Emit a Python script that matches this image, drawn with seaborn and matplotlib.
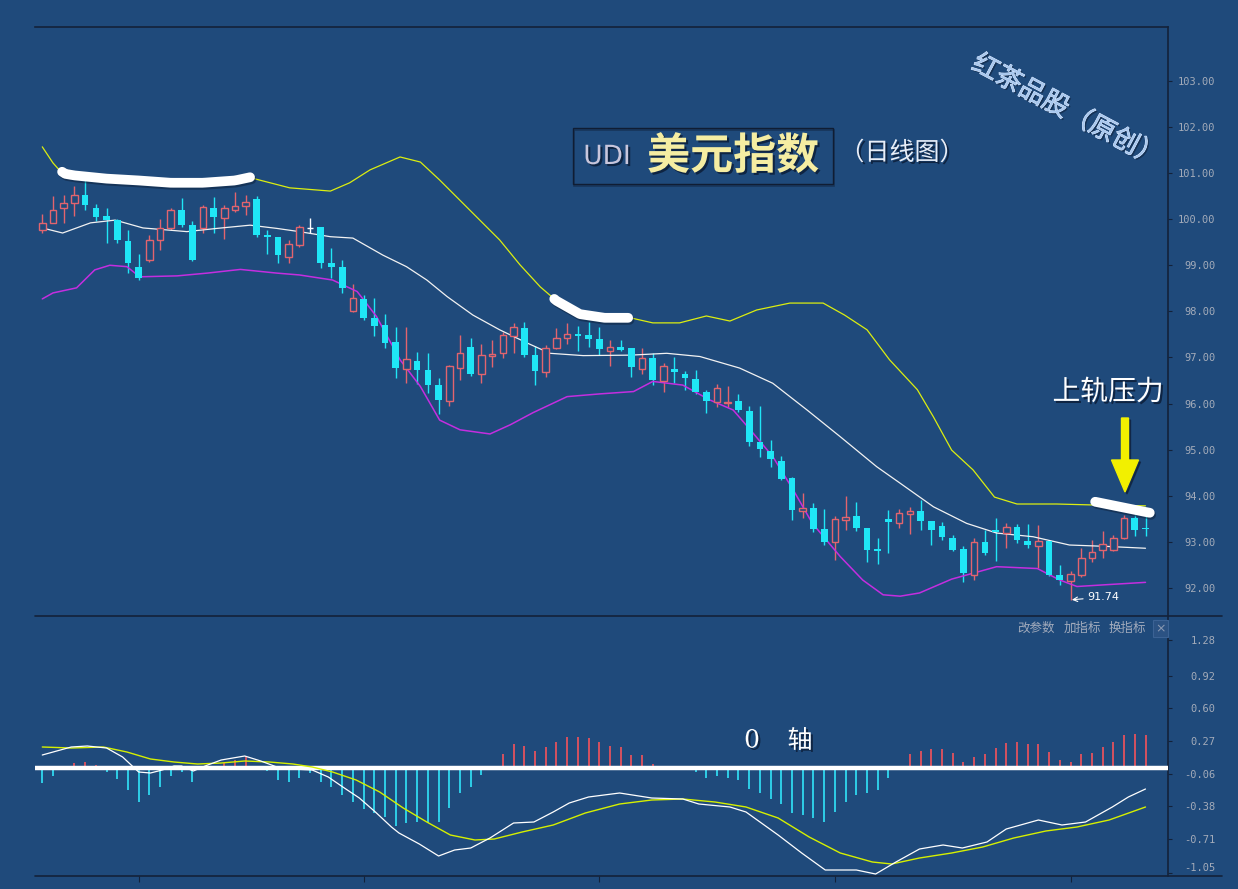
import numpy as np
import pandas as pd
import matplotlib
matplotlib.use("Agg")
import matplotlib.pyplot as plt
import matplotlib.patheffects as pe
from matplotlib.patches import Rectangle, FancyArrow
from matplotlib.lines import Line2D
from matplotlib.transforms import IdentityTransform
import seaborn as sns

# ---- daily candles (104 sessions) ----
opens = [99.77, 99.92, 100.24, 100.36, 100.53, 100.24, 100.07, 99.98, 99.53, 98.96,
         99.12, 99.55, 99.80, 100.20, 99.87, 99.80, 100.24, 100.02, 100.21, 100.29,
         100.43, 99.64, 99.61, 99.17, 99.44, 99.80, 99.82, 99.04, 98.96, 98.01,
         98.27, 97.85, 97.70, 97.34, 96.75, 96.92, 96.73, 96.40, 96.06, 96.78,
         97.22, 96.64, 97.04, 97.09, 97.47, 97.63, 97.05, 96.69, 97.20, 97.42,
         97.49, 97.49, 97.40, 97.15, 97.23, 97.20, 96.75, 96.98, 96.49, 96.75,
         96.64, 96.53, 96.24, 96.04, 96.01, 96.06, 95.84, 95.16, 94.97, 94.76,
         94.39, 93.66, 93.73, 93.28, 92.99, 93.48, 93.55, 93.31, 92.84, 93.49,
         93.40, 93.60, 93.67, 93.45, 93.35, 93.09, 92.85, 92.28, 92.99, 93.26,
         93.19, 93.33, 93.02, 92.90, 93.02, 92.28, 92.14, 92.27, 92.64, 92.82,
         92.82, 93.08, 93.51, 93.29]
highs = [100.11, 100.50, 100.53, 100.71, 100.89, 100.34, 100.24, 100.00, 99.77, 99.25,
         99.66, 100.00, 100.24, 100.45, 99.95, 100.31, 100.49, 100.31, 100.60, 100.53,
         100.50, 99.77, 99.62, 99.55, 99.87, 100.02, 99.82, 99.37, 99.12, 98.59,
         98.36, 98.30, 97.94, 97.67, 97.65, 97.11, 97.09, 96.55, 96.84, 97.49,
         97.42, 97.29, 97.38, 97.56, 97.74, 97.78, 97.25, 97.27, 97.63, 97.74,
         97.68, 97.78, 97.67, 97.38, 97.38, 97.20, 97.20, 97.09, 96.87, 97.02,
         96.71, 96.73, 96.30, 96.43, 96.38, 96.21, 95.95, 95.95, 95.21, 94.86,
         94.41, 94.05, 93.84, 93.71, 93.55, 94.00, 93.86, 93.31, 93.09, 93.69,
         93.71, 93.76, 93.91, 93.45, 93.44, 93.15, 92.90, 93.08, 93.26, 93.51,
         93.40, 93.38, 93.38, 93.37, 93.04, 92.50, 92.37, 92.86, 93.04, 93.24,
         93.15, 93.58, 93.58, 93.58]
lows = [99.69, 99.91, 99.92, 100.07, 100.20, 99.95, 99.48, 99.49, 98.83, 98.68,
        99.08, 99.33, 99.77, 99.84, 99.10, 99.69, 99.69, 99.56, 100.16, 100.09,
        99.61, 99.25, 99.04, 99.06, 99.40, 99.69, 98.94, 98.72, 98.39, 97.98,
        97.81, 97.47, 97.20, 96.56, 96.44, 96.42, 96.22, 95.77, 95.95, 96.51,
        96.60, 96.44, 96.80, 96.98, 97.09, 97.02, 96.40, 96.58, 97.18, 97.29,
        97.13, 97.23, 97.05, 96.82, 97.13, 96.58, 96.64, 96.40, 96.26, 96.45,
        96.30, 96.21, 95.79, 95.92, 95.92, 95.82, 95.07, 94.85, 94.62, 94.34,
        93.48, 93.51, 93.22, 92.93, 92.61, 93.26, 93.24, 92.57, 92.51, 92.75,
        93.31, 93.16, 93.26, 92.93, 93.04, 92.79, 92.12, 92.17, 92.72, 92.58,
        92.86, 92.97, 92.86, 92.44, 92.25, 92.07, 91.74, 92.24, 92.57, 92.64,
        92.79, 93.06, 93.13, 93.13]
closes = [99.91, 100.21, 100.36, 100.53, 100.31, 100.05, 99.98, 99.55, 99.06, 98.72,
          99.55, 99.80, 100.20, 99.87, 99.12, 100.27, 100.04, 100.24, 100.29, 100.37,
          99.66, 99.62, 99.22, 99.46, 99.82, 99.80, 99.06, 98.97, 98.51, 98.30,
          97.85, 97.69, 97.31, 96.78, 96.96, 96.73, 96.40, 96.08, 96.82, 97.09,
          96.64, 97.05, 97.08, 97.49, 97.67, 97.05, 96.71, 97.21, 97.42, 97.50,
          97.47, 97.40, 97.18, 97.23, 97.16, 96.80, 96.98, 96.51, 96.82, 96.69,
          96.56, 96.25, 96.06, 96.33, 96.04, 95.85, 95.17, 95.01, 94.80, 94.37,
          93.68, 93.73, 93.28, 93.00, 93.50, 93.54, 93.30, 92.82, 92.81, 93.44,
          93.62, 93.67, 93.45, 93.26, 93.10, 92.82, 92.32, 92.99, 92.75, 93.22,
          93.33, 93.04, 92.93, 93.02, 92.28, 92.17, 92.30, 92.64, 92.77, 92.95,
          93.09, 93.51, 93.26, 93.27]

# ---- bollinger bands, read at points along the session axis ----
upper_idx = [0, 1, 2, 3, 6, 9, 12, 15, 18, 19.6, 23.1, 26.9, 28.7, 30.6, 33.4, 35.3, 37.1,
             39.9, 42.7, 44.6, 46.5, 48, 50.2, 52.5, 54.9, 57, 59.5, 62, 64.2, 66.7, 69.8,
             72.9, 74.9, 77, 79.1, 81.7, 83.2, 84.9, 86.9, 88.9, 91, 94.7, 98, 103]
upper = [101.57, 101.22, 100.96, 100.92, 100.85, 100.81, 100.76, 100.76, 100.81, 100.89,
         100.68, 100.61, 100.79, 101.07, 101.35, 101.24, 100.85, 100.20, 99.55, 99.01,
         98.53, 98.23, 97.94, 97.86, 97.86, 97.75, 97.75, 97.90, 97.79, 98.03, 98.18,
         98.18, 97.92, 97.60, 96.95, 96.30, 95.71, 94.99, 94.56, 93.97, 93.82, 93.82,
         93.80, 93.78]
middle_idx = [0, 1.9, 4.5, 6.8, 9.4, 13.5, 16.3, 19.4, 21.9, 24, 26.9, 29, 31.8, 34, 35.9,
              37.8, 40.2, 42.7, 45.3, 47.4, 50.5, 54.9, 58.3, 61.4, 65.1, 68.2, 71.4, 74.5,
              77.9, 80.1, 83.2, 86.3, 89.1, 92.5, 95.9, 99.4, 103]
middle = [99.81, 99.70, 99.92, 99.98, 99.81, 99.73, 99.80, 99.87, 99.80, 99.73, 99.62,
          99.59, 99.22, 98.97, 98.68, 98.32, 97.92, 97.60, 97.31, 97.09, 97.04, 97.05,
          97.09, 97.02, 96.77, 96.44, 95.86, 95.28, 94.63, 94.27, 93.76, 93.40, 93.19,
          93.11, 92.93, 92.90, 92.86]
lower_idx = [0, 1, 3.2, 4.9, 6.3, 7.9, 9.1, 12.6, 15.4, 18.5, 21.9, 24, 27.1, 29.4, 31.2,
             33.4, 35.3, 37.1, 39, 41.8, 43.7, 45.8, 49, 52.1, 55.2, 57, 59.8, 62.3, 64.5,
             66.1, 68.2, 70.1, 71.9, 74.5, 76.6, 78.5, 80.1, 81.9, 84.9, 89.1, 92.9, 95,
             96.6, 99.4, 103]
lower = [98.27, 98.40, 98.51, 98.90, 99.00, 98.97, 98.75, 98.77, 98.83, 98.91, 98.83,
         98.79, 98.68, 98.43, 97.89, 96.95, 96.37, 95.64, 95.43, 95.34, 95.54, 95.80,
         96.15, 96.21, 96.26, 96.48, 96.40, 96.08, 95.86, 95.43, 94.85, 94.13, 93.40,
         92.68, 92.17, 91.85, 91.82, 91.89, 92.19, 92.46, 92.42, 92.17, 92.03, 92.07,
         92.12]

# ---- MACD (DIF white, DEA yellow, histogram per session) ----
dif_idx = [0, 2.7, 4.2, 6, 7.5, 9, 10.1, 11.2, 12.3, 13, 14.1, 15.2, 16.7, 18.9, 20.4, 21.9,
           23.4, 25.2, 26.7, 28.2, 29.6, 31.1, 32.6, 33.3, 35.2, 37, 38.5, 40, 41.8, 44,
           45.9, 47.7, 49.2, 51, 53.9, 56.9, 59.8, 61.3, 64.2, 65.7, 68.7, 70.9, 73.1, 76,
           77.8, 79.7, 81.9, 84.1, 85.9, 88.2, 90, 93, 95.2, 97.4, 99.9, 101.4, 103]
dif = [0.13, 0.21, 0.22, 0.20, 0.11, -0.04, -0.05, -0.02, 0.02, 0.02, -0.03, 0.02, 0.08,
       0.12, 0.07, 0.01, -0.01, -0.02, -0.09, -0.20, -0.30, -0.44, -0.59, -0.65, -0.76,
       -0.88, -0.82, -0.80, -0.70, -0.55, -0.54, -0.44, -0.35, -0.29, -0.25, -0.30, -0.31,
       -0.36, -0.39, -0.44, -0.67, -0.85, -1.02, -1.02, -1.06, -0.94, -0.81, -0.77, -0.80,
       -0.74, -0.61, -0.52, -0.57, -0.54, -0.39, -0.29, -0.21]
dea_idx = [0, 2.7, 5.7, 7.9, 10.1, 12.3, 14.5, 16.7, 18.9, 21.2, 23.4, 25.2, 27.1, 29.3,
           31.5, 33.7, 35.9, 38.1, 40.4, 42.2, 44.8, 47.7, 50.7, 53.9, 56.9, 59.8, 62.8,
           65.7, 68.7, 71.6, 74.5, 77.5, 79.3, 81.9, 84.9, 87.8, 90.7, 93.7, 96.6, 99.6, 103]
dea = [0.21, 0.20, 0.21, 0.16, 0.09, 0.06, 0.04, 0.05, 0.07, 0.06, 0.04, 0.01, -0.04,
       -0.12, -0.24, -0.40, -0.54, -0.67, -0.72, -0.71, -0.64, -0.57, -0.45, -0.36, -0.32,
       -0.31, -0.34, -0.39, -0.50, -0.69, -0.85, -0.94, -0.96, -0.90, -0.85, -0.79, -0.70,
       -0.63, -0.59, -0.52, -0.39]
macd_hist = [-0.15, -0.08, 0.02, 0.05, 0.06, 0.03, -0.04, -0.11, -0.22, -0.34,
             -0.27, -0.19, -0.08, -0.04, -0.14, 0.0, 0.02, 0.05, 0.08, 0.12,
             0.02, -0.03, -0.12, -0.14, -0.10, -0.05, -0.14, -0.19, -0.27, -0.34,
             -0.41, -0.45, -0.49, -0.58, -0.55, -0.54, -0.55, -0.54, -0.40, -0.25,
             -0.19, -0.07, 0.01, 0.14, 0.24, 0.22, 0.17, 0.21, 0.26, 0.31,
             0.31, 0.30, 0.26, 0.22, 0.21, 0.13, 0.13, 0.04, 0.02, 0.0,
             -0.01, -0.04, -0.10, -0.08, -0.10, -0.12, -0.21, -0.25, -0.31, -0.36,
             -0.45, -0.47, -0.50, -0.54, -0.44, -0.34, -0.27, -0.25, -0.22, -0.10,
             0.02, 0.14, 0.17, 0.19, 0.19, 0.15, 0.06, 0.11, 0.14, 0.20,
             0.25, 0.26, 0.24, 0.24, 0.16, 0.08, 0.06, 0.14, 0.15, 0.21,
             0.26, 0.33, 0.34, 0.33]

price_ticks = [92, 93, 94, 95, 96, 97, 98, 99, 100, 101, 102, 103]
macd_ticks = [1.28, 0.92, 0.60, 0.27, -0.06, -0.38, -0.71, -1.05]
date_ticks = [9, 30, 52, 74, 96]

BG = "#1f4a7b"
DARK = "#13223a"
LABC = "#a3abb9"
UP = "#e2646e"
DN = "#1fe6f6"

sns.set_theme(style="dark", rc={"axes.facecolor": BG, "figure.facecolor": BG})
plt.rcParams["font.family"] = ["Noto Sans CJK SC", "DejaVu Sans"]

W, H = 1238, 889
fig = plt.figure(figsize=(W / 100, H / 100), dpi=100)
ax = fig.add_axes([35 / W, 1 - 616 / H, (1168 - 35) / W, (616 - 27) / H])
ax2 = fig.add_axes([35 / W, 1 - 876 / H, (1168 - 35) / W, (876 - 616) / H])

# ---- candles ----
idx = np.arange(len(opens))
o, h, l, c = map(np.array, (opens, highs, lows, closes))
up = c > o
dn = c < o
fl = c == o
bw = 0.62
ax.vlines(idx[up], l[up], h[up], color=UP, lw=1, zorder=2)
ax.vlines(idx[dn], l[dn], h[dn], color=DN, lw=1, zorder=2)
ax.vlines(idx[fl], l[fl], h[fl], color="white", lw=1, zorder=2)
ax.bar(idx[up], np.maximum(c - o, 0.015)[up], bottom=o[up], width=bw,
       facecolor=BG, edgecolor=UP, linewidth=1, zorder=3)
ax.bar(idx[dn], np.maximum(o - c, 0.035)[dn], bottom=c[dn], width=bw,
       color=DN, linewidth=0, zorder=3)
ax.hlines(c[fl], idx[fl] - bw / 2, idx[fl] + bw / 2, color="white", lw=1, zorder=3)

# ---- bollinger bands ----
ub = pd.DataFrame({"idx": upper_idx, "val": upper})
mb = pd.DataFrame({"idx": middle_idx, "val": middle})
lb = pd.DataFrame({"idx": lower_idx, "val": lower})
sns.lineplot(data=ub, x="idx", y="val", ax=ax, color="#dcee10", lw=0.9, estimator=None)
sns.lineplot(data=mb, x="idx", y="val", ax=ax, color="#f2f2f2", lw=0.9, estimator=None)
sns.lineplot(data=lb, x="idx", y="val", ax=ax, color="#c42ee0", lw=1.1, estimator=None)

# hand-drawn white highlights on the upper band
for a, b, d0, d1 in [(1.85, 19.4, 0.03, 0.03), (47.8, 54.7, 0.0, 0.0), (98.3, 103.4, 0.07, -0.15)]:
    xx = np.linspace(a, b, 60)
    yy = np.interp(xx, upper_idx, upper) + np.linspace(d0, d1, 60)
    ax.plot(xx, yy, color="white", lw=7, solid_capstyle="round", zorder=6,
            path_effects=[pe.SimpleLineShadow(offset=(1, -1.5), shadow_color="#0b1a30", alpha=0.45),
                          pe.Normal()])

ax.annotate("91.74", xy=(96, 91.74), xytext=(99.1, 91.80), color="white", fontsize=8,
            family="DejaVu Sans", ha="center", va="center",
            arrowprops=dict(arrowstyle="->", color="white", lw=0.8, shrinkA=1, shrinkB=1))

ax.set_xlim(-0.68, 105.1)
ax.set_ylim(91.39, 104.17)
ax.set_yticks(price_ticks)
ax.set_yticklabels([f"{v:.2f}" for v in price_ticks])
ax.set_xticks([])

# ---- MACD ----
hist = np.array(macd_hist)
ax2.vlines(idx, 0, hist, colors=np.where(hist >= 0, "#e4525e", "#2fd8f0"), lw=1.3, zorder=2)
ax2.axhline(0, color="white", lw=3.2, zorder=3)
dea_df = pd.DataFrame({"idx": dea_idx, "val": dea})
dif_df = pd.DataFrame({"idx": dif_idx, "val": dif})
sns.lineplot(data=dea_df, x="idx", y="val", ax=ax2, color="#d6f000", lw=1.0, estimator=None, zorder=4)
sns.lineplot(data=dif_df, x="idx", y="val", ax=ax2, color="white", lw=0.9, estimator=None, zorder=4)
ax2.set_xlim(-0.68, 105.1)
ax2.set_ylim(-1.08, 1.52)
ax2.set_yticks(macd_ticks)
ax2.set_yticklabels([f"{v:.2f}" for v in macd_ticks])
ax2.set_xticks(date_ticks)
ax2.set_xticklabels([])
ax2.tick_params(axis="x", bottom=True, length=4, width=0.8, color=DARK, direction="out")

for a in (ax, ax2):
    a.set_facecolor(BG)
    a.set_xlabel("")
    a.set_ylabel("")
    a.grid(False)
    a.yaxis.tick_right()
    for s in a.spines.values():
        s.set_visible(False)
    a.spines["right"].set_visible(True)
    a.spines["right"].set_color(DARK)
    a.spines["right"].set_linewidth(1.2)
    a.tick_params(axis="y", right=True, length=3, width=0.8, color=DARK,
                  labelcolor=LABC, labelsize=7.5, pad=31)
    plt.setp(a.get_yticklabels(), ha="right", family="DejaVu Sans Mono")
ax2.get_yticklabels()[-1].set_va("bottom")
ax.spines["top"].set_visible(True)
ax.spines["top"].set_color(DARK)
ax.spines["top"].set_linewidth(1.2)

for py in (616, 876):
    fig.add_artist(Line2D([35 / W, 1222 / W], [1 - py / H, 1 - py / H], color=DARK, lw=1.2))

# ---- texts ----
def fx(px):
    return px / W


def fy(py):
    return 1 - py / H


shadow = [pe.withSimplePatchShadow(offset=(1.5, -1.5), shadow_rgbFace="#08142a", alpha=0.7)]

fig.add_artist(Rectangle((fx(574), fy(185.5)), 260 / W, 56 / H, transform=fig.transFigure,
                         facecolor="none", edgecolor="#0b1628", lw=1.2, alpha=0.4))
fig.add_artist(Rectangle((fx(573), fy(184)), 260 / W, 56 / H, transform=fig.transFigure,
                         facecolor="none", edgecolor="#101d33", lw=1.0))
fig.text(fx(607), fy(157), "UDI", fontsize=19, color="#c8c6dc", ha="center", va="center",
         family="DejaVu Sans", path_effects=shadow)
fig.text(fx(733), fy(156), "美元指数", fontsize=31, fontweight="bold", color="#f5eda2",
         ha="center", va="center", path_effects=shadow)
fig.text(fx(902), fy(153), "（日线图）", fontsize=18, color="#e8eef8", ha="center", va="center",
         path_effects=shadow)

fig.text(fx(1067), fy(111), "红茶品股（原创）", fontsize=19, color="#a9c8ee", rotation=-28,
         ha="center", va="center",
         path_effects=[pe.withSimplePatchShadow(offset=(1.2, -1.2), shadow_rgbFace="#0b1a30", alpha=0.5),
                       pe.withStroke(linewidth=0.6, foreground="#dbe9ff")])

fig.text(fx(1108), fy(392), "上轨压力", fontsize=20, color="white", ha="center", va="center",
         path_effects=shadow)

fig.add_artist(FancyArrow(1127, H - 420, 0, -74, width=7, head_width=27, head_length=32,
                          length_includes_head=True, color="#0c1b33", alpha=0.6,
                          transform=IdentityTransform()))
fig.add_artist(FancyArrow(1125, H - 418, 0, -74, width=7, head_width=27, head_length=32,
                          length_includes_head=True, color="#f2f000",
                          transform=IdentityTransform()))

fig.text(fx(752), fy(741), "0", fontsize=18, color="white", ha="center", va="center",
         family="DejaVu Serif", path_effects=shadow)
fig.text(fx(800), fy(741), "轴", fontsize=18, color="white", ha="center", va="center",
         path_effects=shadow)

for px, s in [(1036, "改参数"), (1082, "加指标"), (1127, "换指标")]:
    fig.text(fx(px), fy(628), s, fontsize=9, color="#a1aabb", ha="center", va="center")
fig.add_artist(Rectangle((fx(1153), fy(637)), 15 / W, 17 / H, transform=fig.transFigure,
                         facecolor="#2b5283", edgecolor="#3b6294", lw=0.8))
fig.text(fx(1160.5), fy(628.5), "×", fontsize=9, color="#8a99b2", ha="center", va="center",
         family="DejaVu Sans")

fig.savefig("out.png", dpi=100, facecolor=BG)
